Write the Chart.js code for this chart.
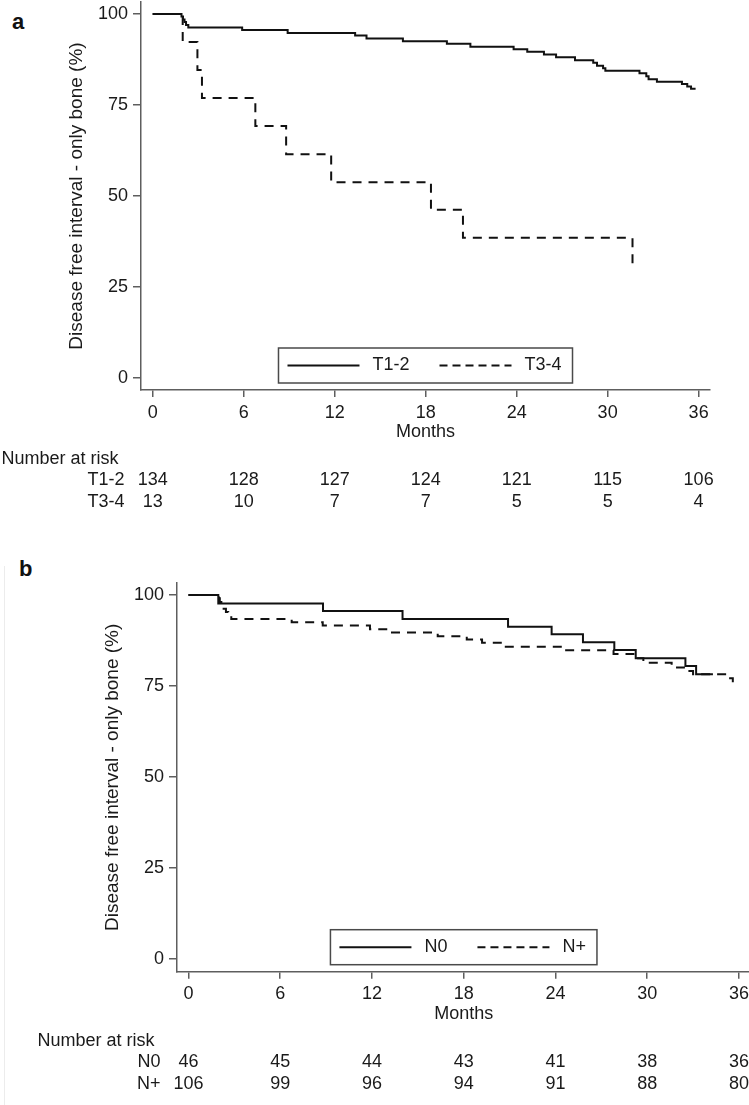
<!DOCTYPE html>
<html>
<head>
<meta charset="utf-8">
<script src="https://cdn.jsdelivr.net/npm/chart.js@4.4.1/dist/chart.umd.min.js"></script>
<style>
  html, body { margin: 0; padding: 0; background: #fff; width: 749px; height: 1105px; overflow: hidden; }
  .panel { position: absolute; left: 0; }
  .letter { position: absolute; font-family: 'Liberation Sans', Arial, Helvetica, sans-serif; font-weight: bold; font-size: 22px; line-height: 1; color: #111; }
  .edge { position: absolute; left: 4px; top: 566px; width: 1px; height: 539px; background: #ececec; }
</style>
</head>
<body>
<div class="letter" style="left:12px; top:11.4px;">a</div>
<div class="letter" style="left:19px; top:558px;">b</div>
<div class="edge"></div>
<div class="panel" style="top:0px;"><canvas id="chartA" width="749" height="520" style="width:749px;height:520px;"></canvas></div>
<div class="panel" style="top:560px;"><canvas id="chartB" width="790" height="545" style="width:790px;height:545px;"></canvas></div>

<script>
// ---------------- data ----------------
const monthTicks = [0, 6, 12, 18, 24, 30, 36];
const survivalTicks = [0, 25, 50, 75, 100];

// Panel a: T stage
const t12Months   = [0, 1.9, 2.0, 2.1, 2.2, 2.35, 5.9, 8.9, 13.35, 14.1, 16.5, 19.4, 20.95, 23.8, 24.7, 25.8, 26.6, 27.85, 29.05, 29.3, 29.7, 29.85, 32.1, 32.55, 32.7, 33.25, 34.9, 35.25, 35.5, 35.8];
const t12Survival = [100, 99.3, 98.5, 97.8, 97.0, 96.3, 95.6, 94.8, 94.1, 93.3, 92.5, 91.8, 91.0, 90.3, 89.6, 88.9, 88.1, 87.3, 86.6, 85.8, 85.1, 84.4, 83.7, 82.9, 82.1, 81.4, 80.8, 80.1, 79.5, 79.5];
const t34Months   = [0, 1.98, 2.95, 3.25, 6.77, 8.8, 11.77, 18.35, 20.46, 31.64];
const t34Survival = [100, 92.3, 84.6, 76.9, 69.2, 61.5, 53.8, 46.2, 38.5, 31.0];
const atRiskT12 = [134, 128, 127, 124, 121, 115, 106];
const atRiskT34 = [13, 10, 7, 7, 5, 5, 4];

// Panel b: N stage
const n0Months   = [0, 1.95, 8.8, 14.0, 20.9, 23.75, 25.8, 27.85, 29.25, 32.5, 33.2, 34.3];
const n0Survival = [100, 97.7, 95.6, 93.4, 91.3, 89.2, 87.0, 84.9, 82.6, 80.5, 78.2, 78.2];
const npMonths   = [0, 2.0, 2.05, 2.15, 2.3, 2.45, 2.6, 2.8, 6.75, 8.78, 11.87, 13.1, 16.3, 18.2, 19.2, 20.5, 24.6, 27.8, 29.1, 29.75, 31.6, 32.4, 33.0, 35.3, 35.6];
const npSurvival = [100, 99.1, 98.1, 97.2, 96.2, 95.3, 94.3, 93.4, 92.5, 91.6, 90.6, 89.7, 88.7, 87.8, 86.9, 85.8, 84.8, 83.8, 82.6, 81.4, 80.1, 79.1, 78.2, 77.1, 76.0];
const atRiskN0 = [46, 45, 44, 43, 41, 38, 36];
const atRiskNp = [106, 99, 96, 94, 91, 88, 80];

// ---------------- styling ----------------
const FONT = "'Liberation Sans', Arial, Helvetica, sans-serif";
const TEXT = '#1a1a1a';
const AXIS = '#5e5e5e';
const LINE = '#111111';
Chart.defaults.font.family = FONT;
Chart.defaults.font.size = 18;
Chart.defaults.color = TEXT;

const zip = (xs, ys) => xs.map((x, i) => ({ x: x, y: ys[i] }));

const riskTablePlugin = {
  id: 'riskTable',
  afterDraw(chart, args, opts) {
    const { ctx, chartArea } = chart;
    const xs = chart.scales.x;
    ctx.save();
    ctx.font = opts.fontSize + 'px ' + FONT;
    ctx.fillStyle = TEXT;
    ctx.textBaseline = 'middle';
    ctx.textAlign = 'left';
    ctx.fillText(opts.title, chartArea.left - opts.titleInset, chartArea.bottom + opts.titleOffset);
    opts.rows.forEach(row => {
      const y = chartArea.bottom + row.offset;
      ctx.textAlign = 'right';
      ctx.fillText(row.label, chartArea.left - opts.labelGap, y);
      ctx.textAlign = 'center';
      row.values.forEach((v, i) => ctx.fillText(String(v), xs.getPixelForValue(monthTicks[i]), y));
    });
    ctx.restore();
  }
};

const boxLegendPlugin = {
  id: 'boxLegend',
  afterDatasetsDraw(chart, args, opts) {
    const { ctx, chartArea } = chart;
    const ds = chart.data.datasets;
    ctx.save();
    ctx.font = opts.fontSize + 'px ' + FONT;
    const w = ds.map(d => ctx.measureText(d.label).width);
    const total = opts.padL + opts.lineLen + opts.textGap + w[0] + opts.itemGap + opts.lineLen + opts.textGap + w[1] + opts.padR;
    const cx = (chartArea.left + chartArea.right) / 2;
    const left = cx - total / 2;
    const bottom = chartArea.bottom - opts.bottomGap;
    const top = bottom - opts.height;
    const cy = (top + bottom) / 2;
    ctx.fillStyle = '#ffffff';
    ctx.fillRect(left, top, total, opts.height);
    ctx.strokeStyle = opts.borderColor;
    ctx.lineWidth = 1.5;
    ctx.strokeRect(left, top, total, opts.height);
    let x = left + opts.padL;
    ds.forEach((d, i) => {
      ctx.beginPath();
      ctx.strokeStyle = d.borderColor;
      ctx.lineWidth = 2;
      ctx.setLineDash(d.borderDash && d.borderDash.length ? opts.legendDash : []);
      ctx.moveTo(x, cy);
      ctx.lineTo(x + opts.lineLen, cy);
      ctx.stroke();
      ctx.setLineDash([]);
      x += opts.lineLen + opts.textGap;
      ctx.fillStyle = TEXT;
      ctx.textAlign = 'left';
      ctx.textBaseline = 'middle';
      ctx.fillText(d.label, x, cy);
      x += w[i] + opts.itemGap;
    });
    ctx.restore();
  }
};

function makeScales(cfg) {
  return {
    x: {
      type: 'linear',
      min: cfg.xMin,
      max: cfg.xMax,
      afterBuildTicks: s => { s.ticks = monthTicks.map(v => ({ value: v })); },
      afterFit: s => { s.height = cfg.xHeight; s.paddingLeft = 0; s.paddingRight = 0; },
      grid: { display: true, drawOnChartArea: false, drawTicks: true, tickLength: 7, color: AXIS, lineWidth: 1.5 },
      border: { display: true, color: AXIS, width: 1.5 },
      ticks: { padding: 5, color: TEXT, font: { size: 18 }, autoSkip: false, maxRotation: 0, callback: v => String(v) },
      title: { display: true, text: 'Months', color: TEXT, font: { size: 18 }, padding: 0 }
    },
    y: {
      type: 'linear',
      min: cfg.yMin,
      max: cfg.yMax,
      afterBuildTicks: s => { s.ticks = survivalTicks.map(v => ({ value: v })); },
      afterFit: s => { s.width = cfg.yWidth; s.paddingTop = 0; s.paddingBottom = 0; },
      grid: { display: true, drawOnChartArea: false, drawTicks: true, tickLength: 8, color: AXIS, lineWidth: 1.5 },
      border: { display: true, color: AXIS, width: 1.5 },
      ticks: { padding: 5, color: TEXT, font: { size: 18 }, autoSkip: false, callback: v => String(v) },
      title: { display: true, text: 'Disease free interval - only bone (%)', color: TEXT, font: { size: 19 }, padding: { top: cfg.titlePad, bottom: 0 } }
    }
  };
}

function makeChart(id, datasets, cfg, rows) {
  return new Chart(document.getElementById(id), {
    type: 'line',
    data: { datasets: datasets },
    plugins: [boxLegendPlugin, riskTablePlugin],
    options: {
      responsive: false,
      animation: false,
      devicePixelRatio: 1,
      events: [],
      layout: { padding: cfg.padding },
      scales: makeScales(cfg),
      plugins: {
        legend: { display: false },
        tooltip: { enabled: false },
        boxLegend: { fontSize: 18, padL: 9, lineLen: 72, textGap: 13, itemGap: 30, padR: 11, height: 35, bottomGap: 7, borderColor: '#4a4a4a', legendDash: [8, 5] },
        riskTable: { fontSize: 18, title: 'Number at risk', titleInset: 139.5, titleOffset: 69, labelGap: 16.5, rows: rows }
      }
    }
  });
}

function seriesStyle(label, data, dashed) {
  return {
    label: label,
    data: data,
    stepped: true,
    borderColor: LINE,
    borderWidth: 2,
    borderDash: dashed ? [9, 7] : [],
    pointRadius: 0,
    fill: false,
    tension: 0
  };
}

makeChart('chartA', [
  seriesStyle('T1-2', zip(t12Months, t12Survival), false),
  seriesStyle('T3-4', zip(t34Months, t34Survival), true)
], {
  xMin: -0.77, xMax: 36.75, yMin: -3.3, yMax: 103.3,
  yWidth: 141, xHeight: 52.8, titlePad: 65.6,
  padding: { left: 0, top: 2, right: 39, bottom: 77.2 }
}, [
  { label: 'T1-2', values: atRiskT12, offset: 90.5 },
  { label: 'T3-4', values: atRiskT34, offset: 112.5 }
]);

makeChart('chartB', [
  seriesStyle('N0', zip(n0Months, n0Survival), false),
  seriesStyle('N+', zip(npMonths, npSurvival), true)
], {
  xMin: -0.75, xMax: 36.75, yMin: -3.5, yMax: 103.3,
  yWidth: 177, xHeight: 52.8, titlePad: 101.6,
  padding: { left: 0, top: 23, right: 39.6, bottom: 80.5 }
}, [
  { label: 'N0', values: atRiskN0, offset: 90.5 },
  { label: 'N+', values: atRiskNp, offset: 112.5 }
]);
</script>
</body>
</html>
